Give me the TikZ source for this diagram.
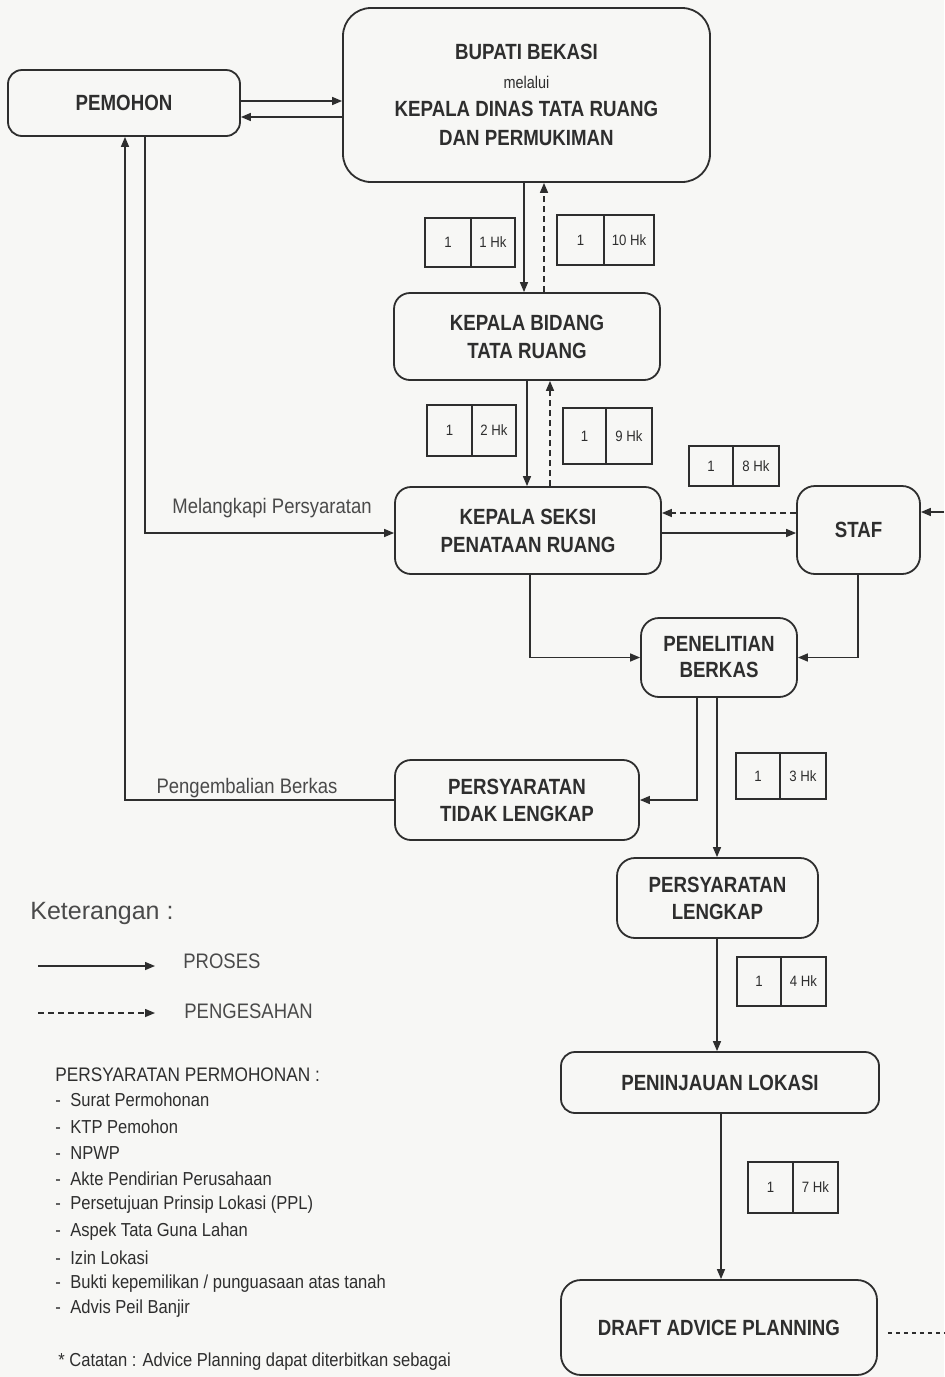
\documentclass[tikz,border=0pt]{standalone}
\usepackage{fontspec}
\setmainfont{Liberation Sans}
\newfontfamily\nar{Liberation Sans}[FakeStretch=0.85]
\newfontfamily\narb{Liberation Sans}[FakeStretch=0.88]
\usetikzlibrary{arrows.meta,calc}
\definecolor{ink}{HTML}{2E2E2E}
\definecolor{paper}{HTML}{F7F7F5}
\definecolor{soft}{HTML}{4A4A4A}
\newcommand\timebox[7]{%
  \node[cell, minimum width={(#3-#2)*0.5pt}, minimum height={(#6-#5)*0.5pt}] (#1a) at ({(#2+#3)/2},{(#5+#6)/2}) {1};
  \node[cell, minimum width={(#4-#3)*0.5pt}, minimum height={(#6-#5)*0.5pt}] (#1b) at ({(#3+#4)/2},{(#5+#6)/2}) {#7};
}
\begin{document}
\begin{tikzpicture}[x=0.5pt,y=-0.5pt,
  box/.style={draw=ink, line width=0.9pt, rounded corners=8pt, align=center, text=ink,
    font=\nar\bfseries\fontsize{11}{14}\selectfont, inner sep=0pt},
  cell/.style={draw=ink, line width=0.7pt, inner sep=0pt, text=ink,
    font=\narb\fontsize{7.5}{9}\selectfont},
  proc/.style={draw=ink, line width=0.75pt, -{Triangle[length=5pt,width=4pt]}},
  appr/.style={proc, dash pattern=on 3pt off 2pt},
  lbl/.style={text=soft, font=\narb\fontsize{10.5}{12}\selectfont, inner sep=0pt},
  legtxt/.style={text=soft, font=\narb\fontsize{10.5}{12}\selectfont, inner sep=0pt, anchor=west},
  listtxt/.style={text=ink, font=\narb\fontsize{9.4}{11}\selectfont, inner sep=0pt, anchor=west},
]
\fill[paper] (0,0) rectangle (944,1377);
\useasboundingbox (0,0) rectangle (944,1377);

% boxes
\node[box, rounded corners=7pt, minimum width=116pt, minimum height=33pt] (pem) at (124,103) {PEMOHON};
\node[box, rounded corners=14pt, minimum width=183.5pt, minimum height=87pt, font=\nar\bfseries\fontsize{11}{14.3}\selectfont] (bup) at (526.5,95)
  {BUPATI BEKASI\\{\mdseries\fontsize{8.5}{14.3}\selectfont melalui}\\KEPALA DINAS TATA RUANG\\DAN PERMUKIMAN};
\node[box, minimum width=133pt, minimum height=43.5pt] (bid) at (527,336.5) {KEPALA BIDANG\\TATA RUANG};
\node[box, minimum width=133pt, minimum height=43.5pt] (sek) at (528,530.5) {KEPALA SEKSI\\PENATAAN RUANG};
\node[box, rounded corners=9pt, minimum width=61.5pt, minimum height=44pt] (staf) at (858.5,530) {STAF};
\node[box, rounded corners=9pt, minimum width=78pt, minimum height=39.5pt, font=\nar\bfseries\fontsize{11}{13}\selectfont] (pen) at (719,657.5) {PENELITIAN\\BERKAS};
\node[box, minimum width=122pt, minimum height=40pt, font=\nar\bfseries\fontsize{11}{13.5}\selectfont] (tid) at (517,800) {PERSYARATAN\\TIDAK LENGKAP};
\node[box, rounded corners=9pt, minimum width=100.5pt, minimum height=40pt, font=\nar\bfseries\fontsize{11}{13.5}\selectfont] (len) at (717.5,898) {PERSYARATAN\\LENGKAP};
\node[box, rounded corners=7pt, minimum width=159pt, minimum height=30.5pt] (pin) at (720,1082.5) {PENINJAUAN LOKASI};
\node[box, rounded corners=10pt, minimum width=158pt, minimum height=47.5pt] (dra) at (719,1327.5) {\raisebox{-2.75pt}{DRAFT ADVICE PLANNING}};

% time boxes
\timebox{tA}{425}{471}{515}{218}{267}{1 Hk}
\timebox{tB}{557}{604}{654}{215}{265}{10 Hk}
\timebox{tC}{427}{472}{516}{405}{456}{2 Hk}
\timebox{tD}{563}{606}{652}{408}{464}{9 Hk}
\timebox{tE}{689}{733}{779}{446}{486}{8 Hk}
\timebox{tF}{736}{780}{826}{753}{799}{3 Hk}
\timebox{tG}{737}{781}{826}{957}{1006}{4 Hk}
\timebox{tH}{748}{793}{838}{1162}{1213}{7 Hk}

% helper coordinates
\coordinate (y101) at (0,101);
\coordinate (y117) at (0,117);
\coordinate (y513) at (0,513);
\coordinate (y533) at (0,533);
\coordinate (y1333) at (0,1333);
\coordinate (x524) at (524,0);
\coordinate (x544) at (544,0);
\coordinate (x527) at (527,0);
\coordinate (x550) at (550,0);
\coordinate (x530) at (530,0);
\coordinate (x858) at (858,0);
\coordinate (x697) at (697,0);
\coordinate (x717) at (717,0);
\coordinate (x721) at (721,0);
\coordinate (x125) at (125,0);
\coordinate (x145) at (145,0);
\coordinate (inS) at (944,512);
\coordinate (outD) at (944,1333);

% connectors
\draw[proc] (pem.east |- y101) -- (bup.west |- y101);
\draw[proc] (bup.west |- y117) -- (pem.east |- y117);
\draw[proc] (bup.south -| x524) -- (bid.north -| x524);
\draw[appr] (bid.north -| x544) -- (bup.south -| x544);
\draw[proc] (bid.south -| x527) -- (sek.north -| x527);
\draw[appr] (sek.north -| x550) -- (bid.south -| x550);
\draw[appr] (staf.west |- y513) -- (sek.east |- y513);
\draw[proc] (sek.east |- y533) -- (staf.west |- y533);
\draw[proc] (inS) -- (staf.east |- inS);
\draw[proc] (pem.south -| x145) |- (sek.west |- y533);
\draw[proc] (tid.west) -| (pem.south -| x125);
\draw[proc] (sek.south -| x530) |- (pen.west);
\draw[proc] (staf.south -| x858) |- (pen.east);
\draw[proc] (pen.south -| x697) |- (tid.east);
\draw[proc] (pen.south -| x717) -- (len.north -| x717);
\draw[proc] (len.south -| x717) -- (pin.north -| x717);
\draw[proc] (pin.south -| x721) -- (dra.north -| x721);
\draw[draw=ink, line width=0.75pt, dash pattern=on 2pt off 2pt, shorten <=5pt] (dra.east |- y1333) -- (outD);

% connector labels
\node[lbl] (lmel) at (272,508) {Melangkapi Persyaratan};
\node[lbl] (lpen) at (247,788) {Pengembalian Berkas};

% legend
\node[anchor=west, inner sep=0pt, text=soft, font=\fontsize{12.5}{14}\selectfont] (ket) at (30,913) {Keterangan :};
\coordinate (pa) at (38,966);
\coordinate (pb) at (155,966);
\draw[proc] (pa) -- (pb);
\node[legtxt] (lproses) at (183,961) {PROSES};
\coordinate (qa) at (38,1013);
\coordinate (qb) at (155,1013);
\draw[appr] (qa) -- (qb);
\node[legtxt] (lpeng) at (184,1011) {PENGESAHAN};

\node[listtxt, font=\narb\fontsize{9.8}{11}\selectfont] (ph) at (55,1075) {PERSYARATAN PERMOHONAN :};
\node[listtxt] (i1) at (55,1100) {\makebox[7.5pt][l]{-}Surat Permohonan};
\node[listtxt] (i2) at (55,1127) {\makebox[7.5pt][l]{-}KTP Pemohon};
\node[listtxt] (i3) at (55,1153) {\makebox[7.5pt][l]{-}NPWP};
\node[listtxt] (i4) at (55,1179) {\makebox[7.5pt][l]{-}Akte Pendirian Perusahaan};
\node[listtxt] (i5) at (55,1205) {\makebox[7.5pt][l]{-}Persetujuan Prinsip Lokasi (PPL)};
\node[listtxt] (i6) at (55,1232) {\makebox[7.5pt][l]{-}Aspek Tata Guna Lahan};
\node[listtxt] (i7) at (55,1258) {\makebox[7.5pt][l]{-}Izin Lokasi};
\node[listtxt] (i8) at (55,1284) {\makebox[7.5pt][l]{-}Bukti kepemilikan / punguasaan atas tanah};
\node[listtxt] (i9) at (55,1309) {\makebox[7.5pt][l]{-}Advis Peil Banjir};
\node[listtxt] (cat) at (58,1362) {* Catatan : Advice Planning dapat diterbitkan sebagai};
\end{tikzpicture}
\end{document}
